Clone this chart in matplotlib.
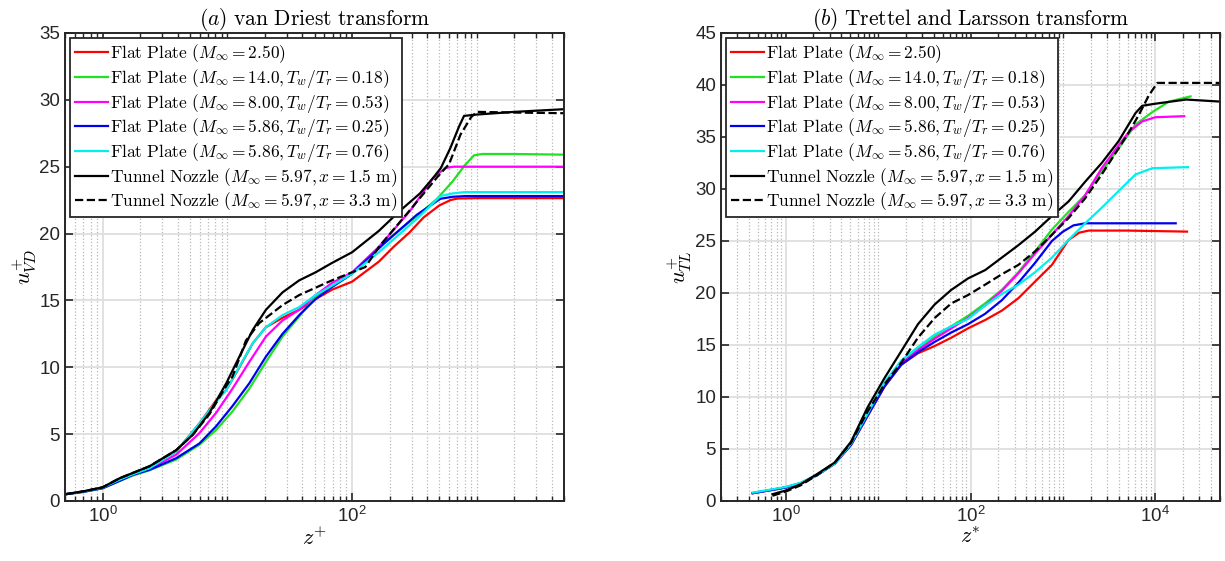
import numpy as np
import matplotlib
matplotlib.use("Agg")
import matplotlib.pyplot as plt
from matplotlib.ticker import FixedLocator, NullFormatter, LogFormatterSciNotation

plt.rcParams['font.family'] = ['Liberation Sans', 'DejaVu Sans']
plt.rcParams['mathtext.fontset'] = 'cm'

# ---------------- Panel (a): van Driest ----------------
a_red_x = [0.5, 0.7, 1, 1.37, 1.75, 2.38, 3.89, 5.97, 8.1, 9.8, 12.5, 16, 20.4, 27.7, 37.7, 51, 69, 100, 164, 215, 290, 374, 500, 614, 700, 1000, 2000, 5000]
a_red_y = [0.5, 0.7, 1.0, 1.6, 2.0, 2.45, 3.7, 5.8, 7.5, 8.3, 10.0, 11.8, 13.0, 13.7, 14.3, 15.1, 15.8, 16.4, 17.9, 19.0, 20.1, 21.2, 22.1, 22.5, 22.62, 22.65, 22.65, 22.65]

a_grn_x = [0.5, 0.7, 1, 1.37, 1.75, 2.38, 3.89, 5.97, 8.1, 11, 15, 20.4, 27.7, 37.7, 51, 69, 100, 178, 330, 480, 640, 800, 950, 1100, 2000, 5000]
a_grn_y = [0.5, 0.68, 0.95, 1.5, 1.9, 2.3, 3.1, 4.2, 5.3, 6.7, 8.4, 10.4, 12.3, 13.8, 15.3, 16.0, 17.0, 19.3, 21.3, 22.6, 23.9, 25.1, 25.85, 25.95, 25.95, 25.9]

a_mag_x = [0.5, 0.7, 1, 1.37, 1.75, 2.38, 3.89, 5.97, 8.1, 11, 15, 20.4, 27.7, 37.7, 51, 69, 100, 164, 292, 450, 560, 650, 1000, 5000]
a_mag_y = [0.5, 0.7, 1.0, 1.6, 1.95, 2.4, 3.46, 5.07, 6.57, 8.4, 10.4, 12.3, 13.5, 14.3, 15.4, 16.3, 17.1, 19.0, 21.7, 24.2, 24.9, 25.0, 25.0, 25.0]

a_blu_x = [0.5, 0.7, 1, 1.37, 1.75, 2.38, 3.89, 5.97, 8.1, 11, 15, 20.4, 27.7, 37.7, 51, 69, 100, 178, 330, 510, 640, 800, 5000]
a_blu_y = [0.5, 0.68, 0.95, 1.5, 1.96, 2.33, 3.2, 4.3, 5.57, 7.1, 8.8, 10.8, 12.5, 13.9, 15.1, 16.0, 17.0, 19.2, 21.4, 22.6, 22.75, 22.8, 22.8]

a_cyn_x = [0.5, 0.7, 1, 1.37, 1.75, 2.38, 3.89, 5.97, 8.1, 9.8, 12.5, 16, 20.4, 27.7, 37.7, 51, 69, 100, 164, 330, 510, 640, 800, 5000]
a_cyn_y = [0.5, 0.7, 1.0, 1.6, 2.0, 2.45, 3.7, 5.8, 7.4, 8.3, 10.05, 11.8, 13.0, 13.9, 14.5, 15.4, 16.1, 17.0, 18.6, 21.1, 22.8, 23.0, 23.1, 23.1]

a_blk_x = [0.5, 0.7, 1, 1.37, 2.38, 3.89, 5.28, 7.2, 9.8, 12.5, 16, 20.4, 27.7, 37.7, 51, 69, 100, 164, 242, 350, 450, 515, 614, 720, 790, 1000, 2000, 5000]
a_blk_y = [0.5, 0.72, 1.02, 1.7, 2.6, 3.8, 4.95, 6.6, 8.8, 10.8, 12.8, 14.3, 15.6, 16.5, 17.1, 17.8, 18.6, 20.2, 21.7, 23.0, 24.2, 24.9, 26.4, 28.0, 28.8, 28.9, 29.1, 29.3]

a_dsh_x = [0.5, 0.7, 1, 1.37, 2.38, 3.89, 5.28, 7.2, 9.8, 11, 14.1, 18, 27.7, 37.7, 69, 128, 164, 300, 480, 600, 740, 900, 1000, 2000, 5000]
a_dsh_y = [0.5, 0.72, 1.02, 1.7, 2.6, 3.8, 4.95, 6.5, 8.6, 9.3, 12.0, 13.3, 14.65, 15.4, 16.5, 17.5, 19.0, 21.9, 24.2, 25.2, 27.4, 28.7, 29.1, 29.05, 29.0]

# ---------------- Panel (b): Trettel & Larsson ----------------
b_red_x = [0.44, 1.0, 1.45, 2.2, 3.4, 5.1, 7.7, 11.7, 17.8, 27, 41, 62, 94, 144, 218, 330, 500, 760, 1150, 1500, 1900, 5000, 22000]
b_red_y = [0.75, 1.3, 1.7, 2.5, 3.6, 5.4, 8.2, 11.0, 13.1, 14.2, 14.9, 15.7, 16.6, 17.4, 18.3, 19.5, 21.1, 22.7, 25.1, 25.8, 26.0, 26.0, 25.9]

b_grn_x = [0.44, 1.0, 1.45, 2.2, 3.4, 5.1, 7.7, 11.7, 17.8, 27, 41, 62, 94, 144, 218, 330, 500, 760, 1150, 1740, 2630, 4000, 6100, 9300, 14000, 24000]
b_grn_y = [0.75, 1.3, 1.7, 2.5, 3.6, 5.4, 8.2, 11.0, 13.2, 14.6, 15.8, 16.8, 17.8, 19.0, 20.3, 22.0, 24.0, 26.1, 27.8, 29.4, 31.7, 33.9, 36.2, 37.4, 38.4, 38.9]

b_mag_x = [0.44, 1.0, 1.45, 2.2, 3.4, 5.1, 7.7, 11.7, 17.8, 27, 41, 62, 94, 144, 218, 330, 500, 760, 1150, 1740, 2630, 4000, 5200, 7200, 10000, 20500]
b_mag_y = [0.75, 1.3, 1.7, 2.5, 3.6, 5.4, 8.2, 11.0, 13.2, 14.5, 15.6, 16.6, 17.6, 18.8, 20.2, 21.9, 23.8, 25.6, 27.4, 29.4, 32.0, 34.2, 35.5, 36.5, 36.9, 37.0]

b_blu_x = [0.44, 1.0, 1.45, 2.2, 3.4, 5.1, 7.7, 11.7, 17.8, 27, 41, 62, 94, 144, 218, 330, 500, 760, 1000, 1300, 1740, 5000, 16600]
b_blu_y = [0.75, 1.3, 1.7, 2.5, 3.6, 5.4, 8.2, 11.0, 13.1, 14.3, 15.3, 16.2, 17.0, 18.0, 19.3, 21.0, 22.9, 25.0, 25.9, 26.5, 26.7, 26.7, 26.7]

b_cyn_x = [0.44, 1.0, 1.45, 2.2, 3.4, 5.1, 7.7, 11.7, 17.8, 27, 41, 62, 94, 144, 218, 330, 500, 760, 1150, 1740, 2630, 4000, 6100, 9300, 22500]
b_cyn_y = [0.8, 1.35, 1.75, 2.5, 3.6, 5.5, 8.4, 11.4, 13.5, 14.8, 16.0, 16.8, 17.5, 18.8, 19.9, 20.8, 22.0, 23.4, 25.1, 26.7, 28.2, 29.8, 31.4, 32.0, 32.1]

b_blk_x = [0.72, 1.0, 1.45, 2.2, 3.4, 5.1, 7.7, 11.7, 17.8, 27, 41, 62, 94, 144, 218, 330, 500, 760, 1150, 1740, 2630, 4000, 6100, 7200, 10000, 21500, 51000]
b_blk_y = [0.65, 1.0, 1.6, 2.6, 3.7, 5.7, 9.0, 11.8, 14.4, 17.0, 18.9, 20.3, 21.4, 22.2, 23.4, 24.6, 25.9, 27.4, 28.8, 30.7, 32.5, 34.6, 37.3, 38.0, 38.2, 38.6, 38.4]

b_dsh_x = [0.72, 1.0, 1.45, 2.2, 3.4, 5.1, 7.7, 11.7, 17.8, 27, 41, 62, 94, 144, 218, 330, 500, 760, 1150, 1740, 2630, 4000, 5200, 6600, 8500, 10500, 51000]
b_dsh_y = [0.5, 0.9, 1.5, 2.5, 3.7, 5.6, 8.6, 11.2, 13.3, 15.7, 17.6, 19.0, 19.8, 20.8, 21.8, 22.7, 24.0, 25.6, 27.2, 29.1, 31.4, 33.9, 35.5, 37.1, 39.0, 40.2, 40.2]

labels = [
    r'$\mathrm{Flat\ Plate\ }(M_\infty = 2.50)$',
    r'$\mathrm{Flat\ Plate\ }(M_\infty = 14.0, T_w/T_r = 0.18)$',
    r'$\mathrm{Flat\ Plate\ }(M_\infty = 8.00, T_w/T_r = 0.53)$',
    r'$\mathrm{Flat\ Plate\ }(M_\infty = 5.86, T_w/T_r = 0.25)$',
    r'$\mathrm{Flat\ Plate\ }(M_\infty = 5.86, T_w/T_r = 0.76)$',
    r'$\mathrm{Tunnel\ Nozzle\ }(M_\infty = 5.97, x = 1.5\ \mathrm{m})$',
    r'$\mathrm{Tunnel\ Nozzle\ }(M_\infty = 5.97, x = 3.3\ \mathrm{m})$',
]
colors = ['#ff0000', '#22e022', '#ff00ff', '#0000f0', '#00f0f0', '#000000', '#000000']
styles = ['-', '-', '-', '-', '-', '-', '--']

panel_a = [(a_red_x, a_red_y), (a_grn_x, a_grn_y), (a_mag_x, a_mag_y), (a_blu_x, a_blu_y),
           (a_cyn_x, a_cyn_y), (a_blk_x, a_blk_y), (a_dsh_x, a_dsh_y)]
panel_b = [(b_red_x, b_red_y), (b_grn_x, b_grn_y), (b_mag_x, b_mag_y), (b_blu_x, b_blu_y),
           (b_cyn_x, b_cyn_y), (b_blk_x, b_blk_y), (b_dsh_x, b_dsh_y)]

fig = plt.figure(figsize=(12.25, 5.61), dpi=100)
ax1 = fig.add_axes([0.0531, 0.1070, 0.4073, 0.8342])
ax2 = fig.add_axes([0.5886, 0.1070, 0.4073, 0.8342])

def minor_list(lo, hi):
    out = []
    for k in range(lo, hi + 1):
        for n in range(1, 10):
            out.append(n * 10.0 ** k)
    return out

def style_axis(ax, xlim, ylim, yt, xmaj, title, xlabel, ylabel):
    ax.set_xscale('log')
    ax.set_xlim(*xlim)
    ax.set_ylim(*ylim)
    ax.set_yticks(yt)
    ax.xaxis.set_major_locator(FixedLocator(xmaj))
    ax.xaxis.set_minor_locator(FixedLocator([m for m in minor_list(-1, 5) if m not in xmaj]))
    ax.xaxis.set_major_formatter(LogFormatterSciNotation())
    ax.xaxis.set_minor_formatter(NullFormatter())
    ax.grid(True, which='major', color='#dedede', linewidth=1.3, linestyle='-')
    ax.grid(True, which='minor', axis='x', color='#b8b8b8', linewidth=0.9, linestyle=':')
    ax.set_axisbelow(True)
    ax.tick_params(which='both', direction='in', top=True, right=True, colors='#262626', labelsize=13.5)
    ax.tick_params(which='major', length=6, width=1.2)
    ax.tick_params(which='minor', length=3.5, width=1.0)
    for s in ax.spines.values():
        s.set_color('#262626')
        s.set_linewidth(1.4)
    ax.set_title(title, fontsize=15.5, pad=4)
    ax.set_xlabel(xlabel, fontsize=16, labelpad=1)
    ax.set_ylabel(ylabel, fontsize=16, labelpad=1)

for ax, data in ((ax1, panel_a), (ax2, panel_b)):
    for (x, y), c, ls, lab in zip(data, colors, styles, labels):
        ax.plot(x, y, color=c, linestyle=ls, linewidth=1.6, label=lab)
    leg = ax.legend(loc='upper left', fontsize=12.5, frameon=True, fancybox=False,
                    edgecolor='#262626', framealpha=1, handlelength=1.9, handletextpad=0.15,
                    labelspacing=0.1, borderpad=0.25, borderaxespad=0.3)
    leg.get_frame().set_linewidth(1.3)

style_axis(ax1, (0.5, 5000), (0, 35), list(range(0, 36, 5)), [1, 100],
           r'$(a)\ \mathrm{van\ Driest\ transform}$', r'$z^{+}$', r'$u^{+}_{VD}$')
style_axis(ax2, (0.2, 5e4), (0, 45), list(range(0, 46, 5)), [1, 100, 1e4],
           r'$(b)\ \mathrm{Trettel\ and\ Larsson\ transform}$', r'$z^{*}$', r'$u^{+}_{TL}$')

fig.savefig('out.png', dpi=100)
